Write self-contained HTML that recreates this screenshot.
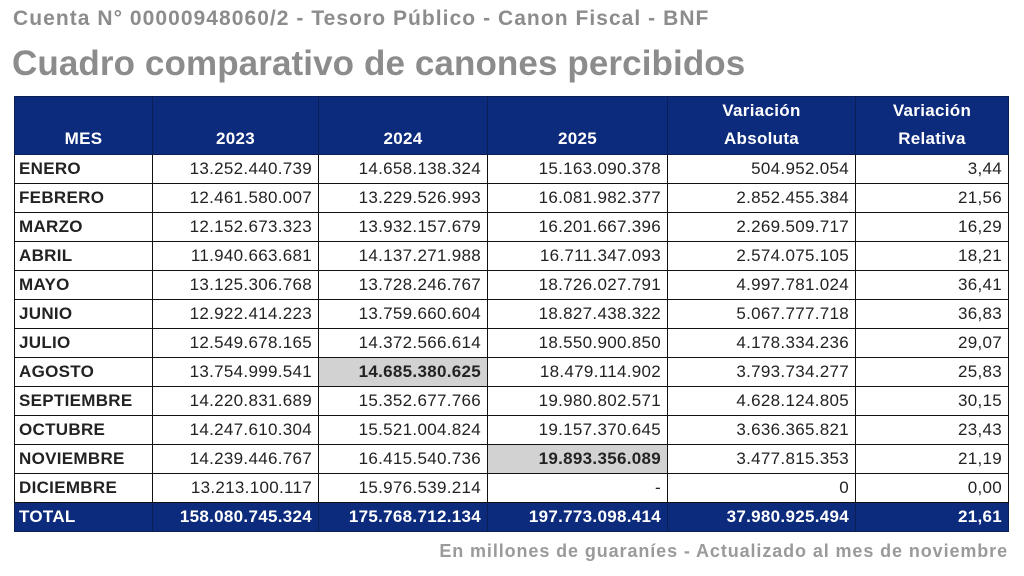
<!DOCTYPE html>
<html><head><meta charset="utf-8"><style>
body{margin:0;width:1024px;height:576px;background:#fff;font-family:"Liberation Sans",sans-serif;position:relative;overflow:hidden}
.t1{position:absolute;left:13px;top:7px;font-size:21px;font-weight:bold;color:#8c8c8c;letter-spacing:1.05px}
.t2{position:absolute;left:12px;top:44px;font-size:35px;font-weight:bold;color:#8c8c8c;letter-spacing:0.1px}
.ft{position:absolute;right:16px;top:541px;font-size:18px;font-weight:bold;color:#9a9a9a;letter-spacing:0.9px}
table{position:absolute;left:14px;top:96px;border-collapse:collapse;table-layout:fixed}
td,th{border:1px solid #111;height:28px;padding:0 6px;font-size:17px;color:#222;text-align:right;white-space:nowrap;letter-spacing:0.3px}
th{background:#0d2b7c;color:#fff;font-weight:bold;text-align:center;height:51px;vertical-align:bottom;padding:0 6px 1px;line-height:28px;border-color:#0a1f55}
td.m{text-align:left;font-weight:bold;padding-left:4px}
td.h{background:#d2d2d2;font-weight:bold}
tr.tot td{background:#0d2b7c;color:#fff;font-weight:bold;border-color:#0a1f55}
</style></head><body>
<div class="t1">Cuenta N° 00000948060/2 - Tesoro Público - Canon Fiscal - BNF</div>
<div class="t2">Cuadro comparativo de canones percibidos</div>
<table>
<colgroup><col style="width:138px"><col style="width:166px"><col style="width:169px"><col style="width:180px"><col style="width:188px"><col style="width:153px"></colgroup>
<tr><th>MES</th><th>2023</th><th>2024</th><th>2025</th><th>Variación<br>Absoluta</th><th>Variación<br>Relativa</th></tr>
<tr><td class="m">ENERO</td><td>13.252.440.739</td><td>14.658.138.324</td><td>15.163.090.378</td><td>504.952.054</td><td>3,44</td></tr>
<tr><td class="m">FEBRERO</td><td>12.461.580.007</td><td>13.229.526.993</td><td>16.081.982.377</td><td>2.852.455.384</td><td>21,56</td></tr>
<tr><td class="m">MARZO</td><td>12.152.673.323</td><td>13.932.157.679</td><td>16.201.667.396</td><td>2.269.509.717</td><td>16,29</td></tr>
<tr><td class="m">ABRIL</td><td>11.940.663.681</td><td>14.137.271.988</td><td>16.711.347.093</td><td>2.574.075.105</td><td>18,21</td></tr>
<tr><td class="m">MAYO</td><td>13.125.306.768</td><td>13.728.246.767</td><td>18.726.027.791</td><td>4.997.781.024</td><td>36,41</td></tr>
<tr><td class="m">JUNIO</td><td>12.922.414.223</td><td>13.759.660.604</td><td>18.827.438.322</td><td>5.067.777.718</td><td>36,83</td></tr>
<tr><td class="m">JULIO</td><td>12.549.678.165</td><td>14.372.566.614</td><td>18.550.900.850</td><td>4.178.334.236</td><td>29,07</td></tr>
<tr><td class="m">AGOSTO</td><td>13.754.999.541</td><td class="h">14.685.380.625</td><td>18.479.114.902</td><td>3.793.734.277</td><td>25,83</td></tr>
<tr><td class="m">SEPTIEMBRE</td><td>14.220.831.689</td><td>15.352.677.766</td><td>19.980.802.571</td><td>4.628.124.805</td><td>30,15</td></tr>
<tr><td class="m">OCTUBRE</td><td>14.247.610.304</td><td>15.521.004.824</td><td>19.157.370.645</td><td>3.636.365.821</td><td>23,43</td></tr>
<tr><td class="m">NOVIEMBRE</td><td>14.239.446.767</td><td>16.415.540.736</td><td class="h">19.893.356.089</td><td>3.477.815.353</td><td>21,19</td></tr>
<tr><td class="m">DICIEMBRE</td><td>13.213.100.117</td><td>15.976.539.214</td><td>-</td><td>0</td><td>0,00</td></tr>
<tr class="tot"><td class="m">TOTAL</td><td>158.080.745.324</td><td>175.768.712.134</td><td>197.773.098.414</td><td>37.980.925.494</td><td>21,61</td></tr>
</table>
<div class="ft">En millones de guaraníes - Actualizado al mes de noviembre</div>
</body></html>
